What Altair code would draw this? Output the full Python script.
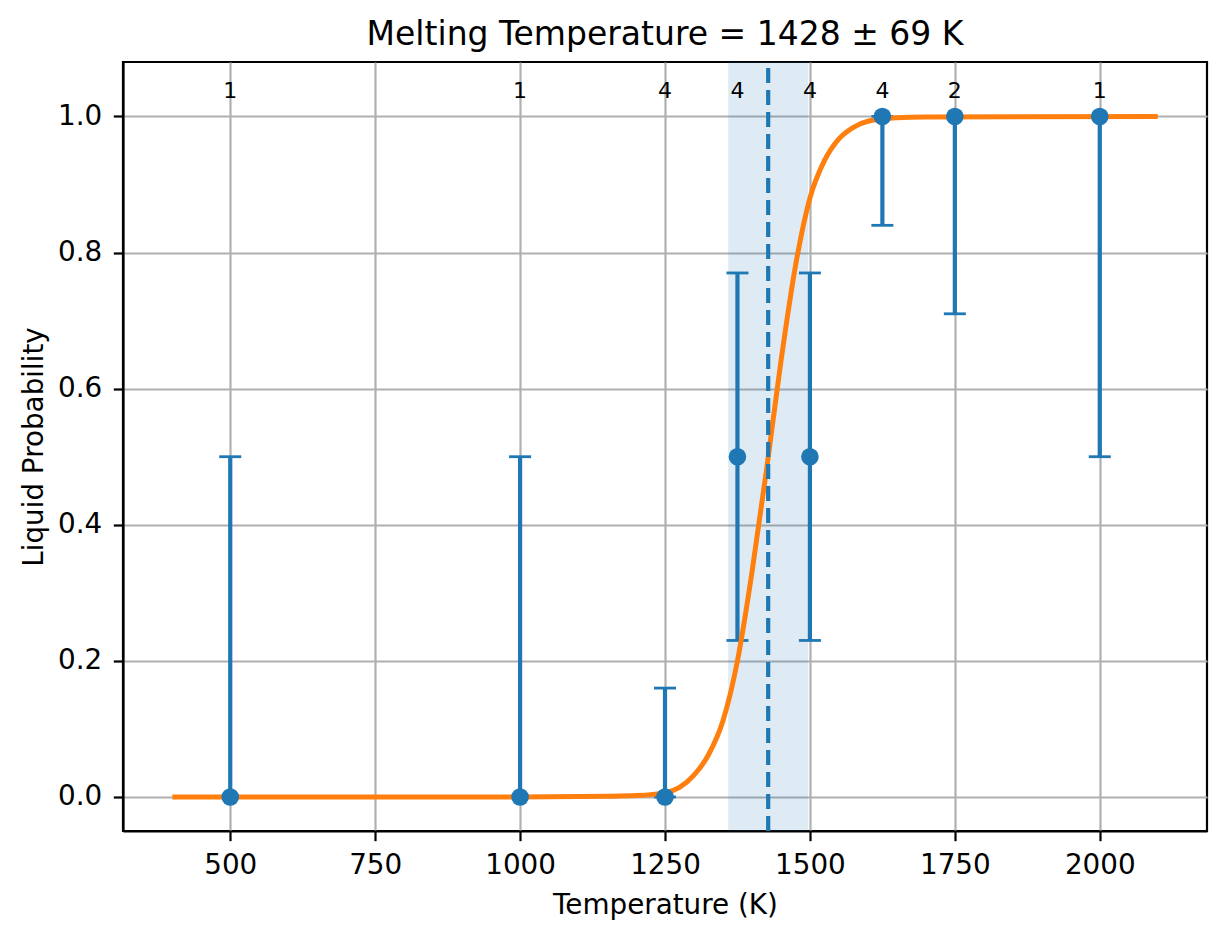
import altair as alt
import pandas as pd

# ---- data ----
temps = [500, 1000, 1250, 1375, 1500, 1625, 1750, 2000]
probs = [0.0, 0.0, 0.0, 0.5, 0.5, 1.0, 1.0, 1.0]
err_lo = [0.0, 0.0, 0.0, 0.23, 0.23, 0.84, 0.71, 0.5]
err_hi = [0.5, 0.5, 0.16, 0.77, 0.77, 1.0, 1.0, 1.0]
counts = [1, 1, 4, 4, 4, 4, 2, 1]

curve_t = [400, 1000, 1150, 1200, 1250, 1275, 1300, 1325, 1350, 1375, 1400,
           1425, 1450, 1475, 1500, 1525, 1550, 1575, 1600, 1650, 1700, 2100]
curve_p = [0.0, 0.0, 0.001, 0.002, 0.006, 0.014, 0.032, 0.062, 0.112, 0.20, 0.33,
           0.48, 0.64, 0.78, 0.88, 0.935, 0.967, 0.984, 0.993, 0.998, 0.999, 1.0]

melt_t = 1428
melt_std = 69

x_ticks = [500, 750, 1000, 1250, 1500, 1750, 2000]
y_ticks = [0.0, 0.2, 0.4, 0.6, 0.8, 1.0]

BLUE = "#1f77b4"
ORANGE = "#ff7f0e"
FONT = "DejaVu Sans"
W, H = 1084, 769

pts = pd.DataFrame({"T": temps, "p": probs, "lo": err_lo, "hi": err_hi, "n": counts})
curve = pd.DataFrame({"T": curve_t, "p": curve_p})
band = pd.DataFrame({"a": [melt_t - melt_std], "b": [melt_t + melt_std], "m": [melt_t]})

xscale = alt.Scale(domain=[315, 2185], nice=False, zero=False)
yscale = alt.Scale(domain=[-0.05, 1.08], nice=False, zero=False)

xaxis = alt.Axis(values=x_ticks, format="d", title="Temperature (K)",
                 labelBaseline="alphabetic", labelPadding=32.5,
                 titleBaseline="alphabetic", titleY=82, labelFlush=False,
                 labelOverlap=False)
yaxis = alt.Axis(values=y_ticks, format=".1f", title="Liquid Probability",
                 labelPadding=11.5, labelBaseline="middle", titleAngle=270,
                 titleBaseline="alphabetic", titleX=-81, titleY=H / 2,
                 titleAlign="center", labelOverlap=False)

base = alt.Chart(pts)

shade = alt.Chart(band).mark_rect(fill=BLUE, opacity=0.15).encode(
    x=alt.X("a:Q", scale=xscale, axis=xaxis),
    x2="b:Q",
    y=alt.value(0),
    y2=alt.value(H),
)

vline = alt.Chart(band).mark_rule(color=BLUE, strokeWidth=4.2, strokeDash=[15, 7]).encode(
    x=alt.X("m:Q", scale=xscale),
    y=alt.value(H),
    y2=alt.value(0),
)

bars = base.mark_rule(color=BLUE, strokeWidth=4.2).encode(
    x=alt.X("T:Q", scale=xscale),
    y=alt.Y("lo:Q", scale=yscale, axis=yaxis),
    y2="hi:Q",
)

cap_lo = base.mark_tick(color=BLUE, orient="horizontal", size=22, thickness=2.8, opacity=1).encode(
    x=alt.X("T:Q", scale=xscale),
    y=alt.Y("lo:Q", scale=yscale),
)
cap_hi = base.mark_tick(color=BLUE, orient="horizontal", size=22, thickness=2.8, opacity=1).encode(
    x=alt.X("T:Q", scale=xscale),
    y=alt.Y("hi:Q", scale=yscale),
)

line = alt.Chart(curve).mark_line(color=ORANGE, strokeWidth=5, interpolate="monotone").encode(
    x=alt.X("T:Q", scale=xscale),
    y=alt.Y("p:Q", scale=yscale),
)

dots = base.mark_circle(color=BLUE, size=310, opacity=1).encode(
    x=alt.X("T:Q", scale=xscale),
    y=alt.Y("p:Q", scale=yscale),
)

labels = base.mark_text(font=FONT, fontSize=22, color="black",
                        baseline="alphabetic", align="center").encode(
    x=alt.X("T:Q", scale=xscale),
    y=alt.datum(1.0264, scale=yscale),
    text="n:N",
)

chart = alt.layer(shade, bars, cap_lo, cap_hi, line, dots, vline, labels).properties(
    width=W,
    height=H,
    title=alt.TitleParams(
        text="Melting Temperature = 1428 ± 69 K",
        font=FONT, fontSize=33, fontWeight="normal", color="black",
        baseline="alphabetic", offset=17, anchor="middle", frame="group", dy=35,
    ),
    autosize=alt.AutoSizeParams(type="none"),
    padding={"left": 115, "top": 54, "right": 12, "bottom": 100},
).configure_axis(
    labelFont=FONT, labelFontSize=27.8, labelColor="black",
    titleFont=FONT, titleFontSize=27.8, titleColor="black", titleFontWeight="normal",
    domainColor="black", domainWidth=2.2,
    tickColor="black", tickWidth=2.2, tickSize=9.7,
    gridColor="#b0b0b0", gridWidth=2.2, gridOpacity=1,
).configure_view(
    stroke="black", strokeWidth=2.2,
)

chart.save("out.html", embed_options={"renderer": "svg", "actions": False})
